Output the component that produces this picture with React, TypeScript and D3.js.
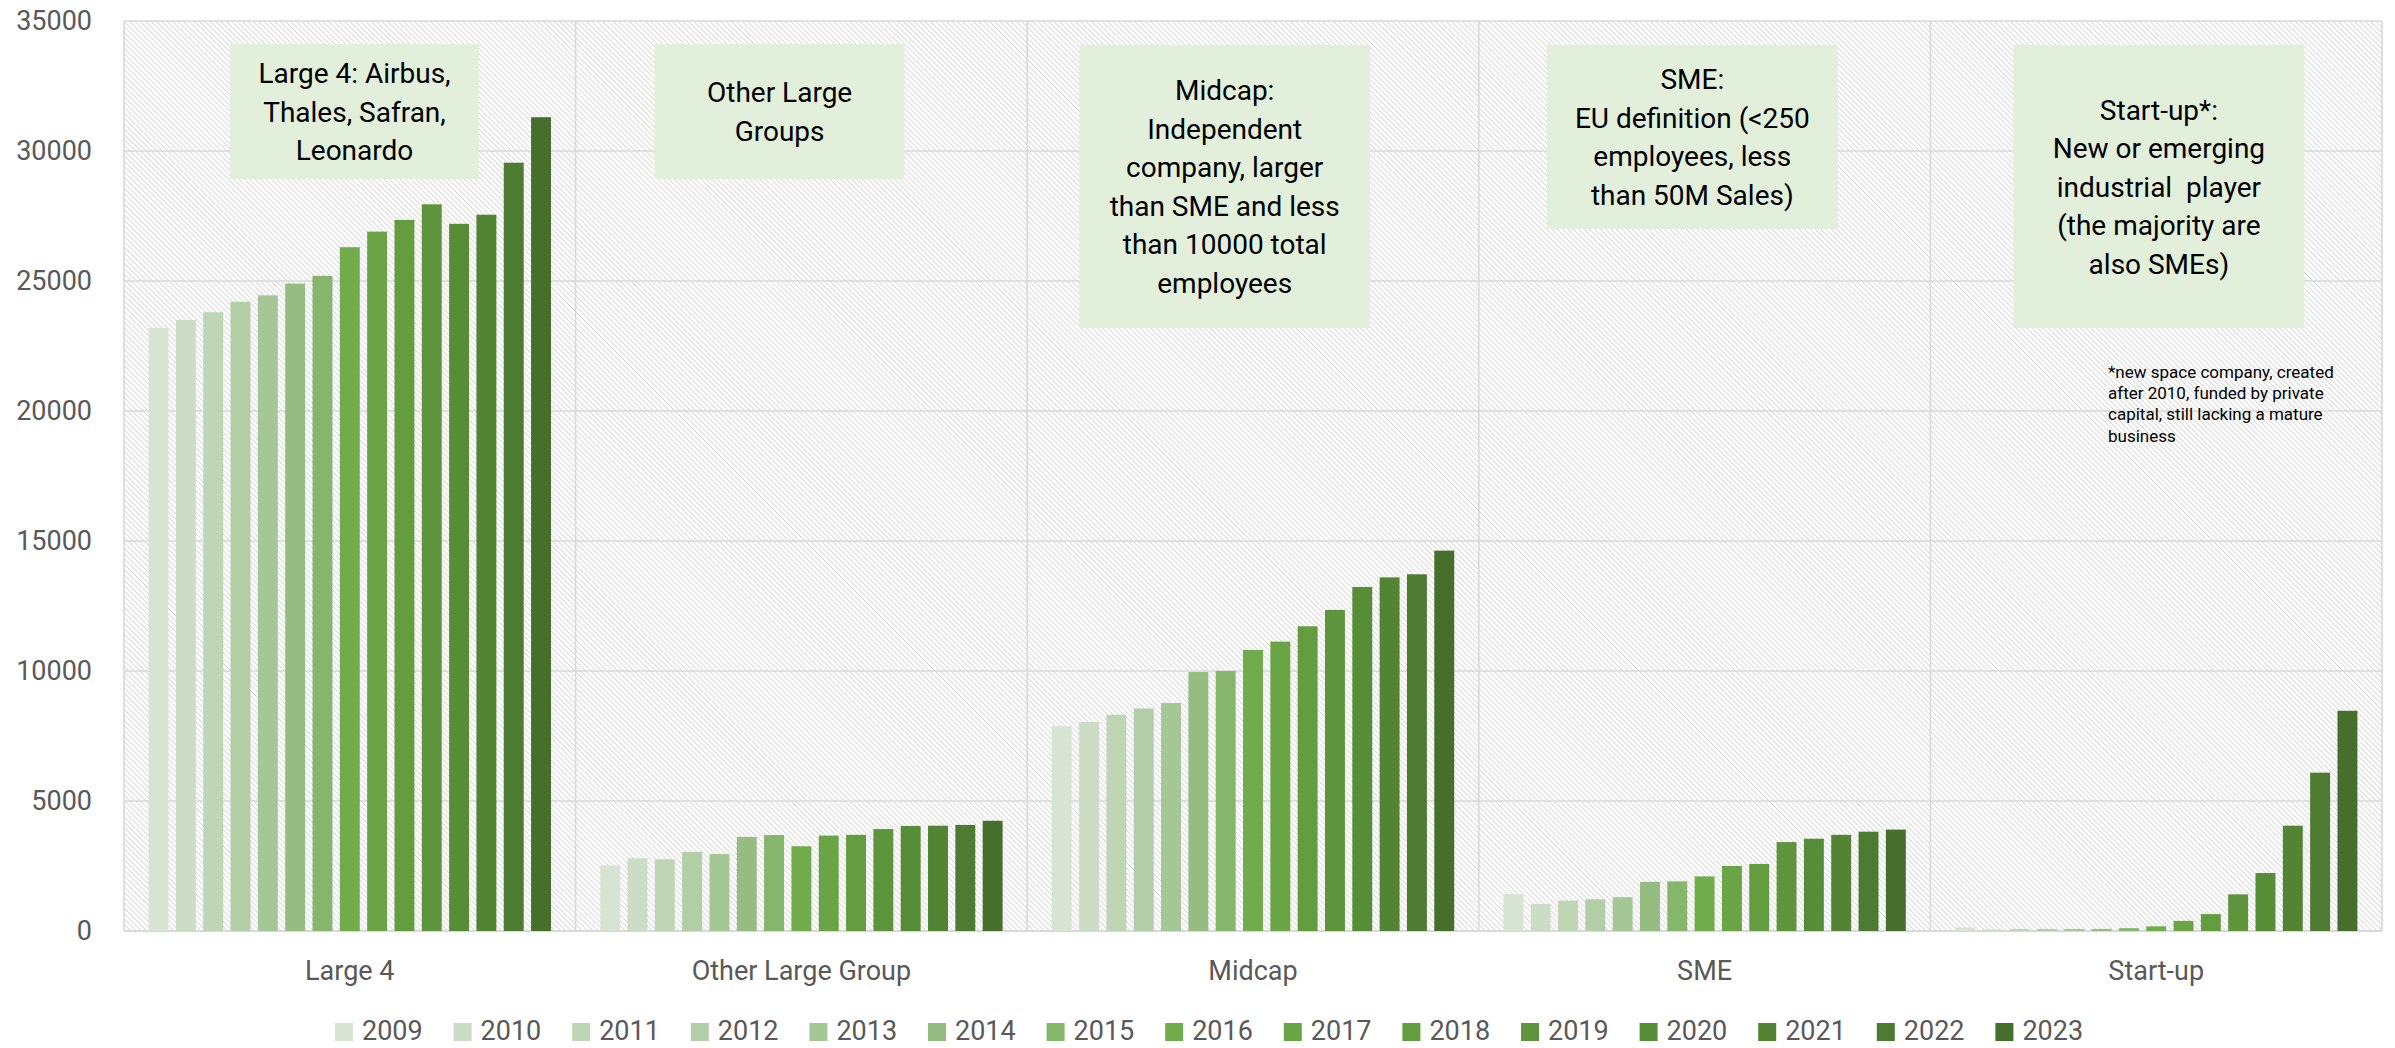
import * as d3 from "d3";

const categories = ["Large 4", "Other Large Group", "Midcap", "SME", "Start-up"];
const years = ["2009", "2010", "2011", "2012", "2013", "2014", "2015", "2016", "2017", "2018", "2019", "2020", "2021", "2022", "2023"];

// employees per category, one value per year 2009..2023
const large4 = [23200, 23500, 23800, 24200, 24450, 24900, 25200, 26300, 26900, 27350, 27950, 27200, 27550, 29550, 31300];
const otherLarge = [2520, 2800, 2760, 3040, 2960, 3620, 3690, 3260, 3670, 3700, 3920, 4040, 4050, 4080, 4240];
const midcap = [7880, 8040, 8320, 8560, 8770, 9960, 10000, 10810, 11130, 11720, 12350, 13230, 13600, 13720, 14630];
const sme = [1420, 1040, 1170, 1220, 1300, 1890, 1910, 2100, 2500, 2580, 3420, 3550, 3700, 3820, 3900];
const startup = [140, 60, 80, 80, 80, 80, 110, 180, 390, 650, 1410, 2230, 4050, 6090, 8470];

const yTicks = [0, 5000, 10000, 15000, 20000, 25000, 30000, 35000];

const yearColors = [
  "#d8e4d2", "#cbddc4", "#bfd6b4", "#b2cea6", "#a5c795", "#95bd82", "#86b56c", "#71ac4c",
  "#6aa445", "#649d40", "#5e953c", "#588d38", "#528434", "#4c7b31", "#466f2c",
];

const boxTexts = [
  ["Large 4: Airbus,", "Thales, Safran,", "Leonardo"],
  ["Other Large", "Groups"],
  ["Midcap:", "Independent", "company, larger", "than SME and less", "than 10000 total", "employees"],
  ["SME:", "EU definition (<250", "employees, less", "than 50M Sales)"],
  ["Start-up*:", "New or emerging", "industrial  player", "(the majority are", "also SMEs)"],
];

const footnote = [
  "*new space company, created",
  "after 2010, funded by private",
  "capital, still lacking a mature",
  "business",
];

const W = 2395, H = 1048;
const plot = { left: 124, right: 2382, top: 21, bottom: 931 };
// annotation boxes, placed relative to the start of each category band
const boxLayout = [
  { dx: 106, w: 249, top: 44, bottom: 179 },
  { dx: 79, w: 250, top: 44, bottom: 179 },
  { dx: 52, w: 291, top: 45, bottom: 328 },
  { dx: 68, w: 291, top: 45, bottom: 229 },
  { dx: 83, w: 291, top: 45, bottom: 328 },
];
const font = "Roboto, sans-serif";

export default function App() {
  const series = [large4, otherLarge, midcap, sme, startup];

  const x0 = d3.scaleBand().domain(categories).range([plot.left, plot.right]).padding(0);
  const x1 = d3.scaleBand().domain(years).range([0, x0.bandwidth()])
    .paddingInner(0.27).paddingOuter(0.9);
  const y = d3.scaleLinear().domain([0, 35000]).range([plot.bottom, plot.top]);

  const lineGap = 38.5;

  return (
    <svg width={W} height={H} style={{ position: "absolute", left: 0, top: 0, display: "block" }}
      fontFamily={font}>
      <defs>
        <pattern id="hatch" patternUnits="userSpaceOnUse" width={3.8} height={3.8}
          patternTransform="rotate(-45)">
          <line x1={0} y1={0} x2={0} y2={3.8} stroke="#c6c6c6" strokeWidth={1.3} />
        </pattern>
      </defs>
      <rect x={0} y={0} width={W} height={H} fill="#fff" />

      {/* plot area */}
      <rect x={plot.left} y={plot.top} width={plot.right - plot.left} height={plot.bottom - plot.top}
        fill="url(#hatch)" />
      {yTicks.map((t) => (
        <line key={t} x1={plot.left} x2={plot.right} y1={y(t)} y2={y(t)}
          stroke="#d9d9d9" strokeWidth={t === 0 ? 2.2 : 1.6} />
      ))}
      {categories.map((c) => (
        <line key={c} x1={x0(c)} x2={x0(c)} y1={plot.top} y2={plot.bottom}
          stroke="#d9d9d9" strokeWidth={1.6} />
      ))}
      <line x1={plot.right} x2={plot.right} y1={plot.top} y2={plot.bottom} stroke="#d9d9d9" strokeWidth={1.6} />

      {/* y tick labels */}
      {yTicks.map((t) => (
        <text key={t} x={92} y={y(t)} dy="0.35em" textAnchor="end" fontSize={27} fill="#595959">
          {t}
        </text>
      ))}

      {/* bars */}
      {categories.map((c, ci) => (
        <g key={c} transform={`translate(${x0(c)},0)`}>
          {years.map((yr, yi) => (
            <rect key={yr} x={x1(yr)} y={y(series[ci][yi])} width={x1.bandwidth()}
              height={y(0) - y(series[ci][yi])} fill={yearColors[yi]} />
          ))}
        </g>
      ))}

      {/* category labels */}
      {categories.map((c) => (
        <text key={c} x={(x0(c) as number) + x0.bandwidth() / 2} y={980} textAnchor="middle"
          fontSize={27} fill="#595959">
          {c}
        </text>
      ))}

      {/* annotation boxes */}
      {categories.map((c, ci) => {
        const b = boxLayout[ci];
        const bx = (x0(c) as number) + b.dx;
        const cy = (b.top + b.bottom) / 2;
        const lines = boxTexts[ci];
        return (
          <g key={c}>
            <rect x={bx} y={b.top} width={b.w} height={b.bottom - b.top} fill="#e2efda" />
            {lines.map((l, li) => (
              <text key={li} x={bx + b.w / 2} y={cy + (li - (lines.length - 1) / 2) * lineGap}
                dy="0.36em" textAnchor="middle" fontSize={28} fill="#000"
                style={{ whiteSpace: "pre" }}>
                {l}
              </text>
            ))}
          </g>
        );
      })}

      {/* footnote */}
      {footnote.map((l, i) => (
        <text key={i} x={2108} y={378 + i * 21.2} fontSize={17} fill="#000">{l}</text>
      ))}

      {/* legend */}
      {years.map((yr, i) => {
        const lx = 335 + i * 118.6;
        return (
          <g key={yr}>
            <rect x={lx} y={1023} width={18} height={18} fill={yearColors[i]} />
            <text x={lx + 27} y={1040} fontSize={27} fill="#595959">{yr}</text>
          </g>
        );
      })}
    </svg>
  );
}
